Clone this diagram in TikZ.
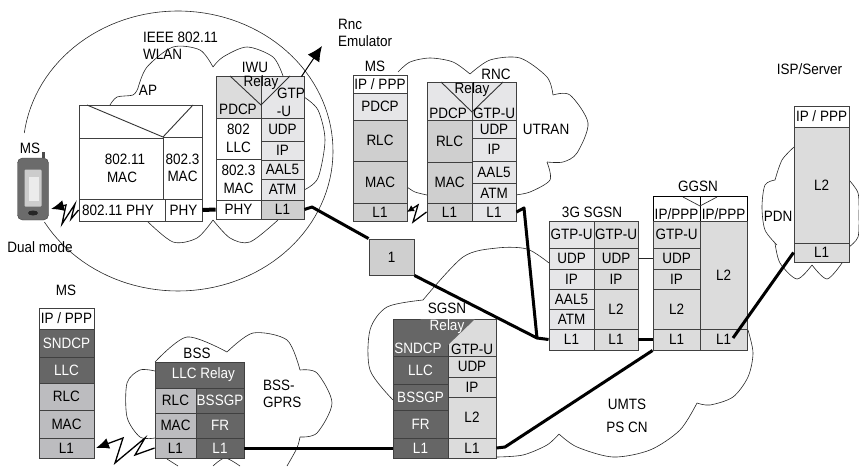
\documentclass[tikz,border=0pt]{standalone}
\usepackage{fontspec}
\setmainfont[FakeStretch=0.9]{Liberation Sans}
\usetikzlibrary{arrows.meta,shapes.geometric}
\definecolor{cellwhite}{HTML}{FFFFFF}
\definecolor{celllight}{HTML}{E6E6E8}
\definecolor{cellpale}{HTML}{DCDCDC}
\definecolor{cellmid}{HTML}{CFCFCF}
\definecolor{cellsteel}{HTML}{BCBCBF}
\definecolor{celldark}{HTML}{666666}
\tikzset{
  box/.style 2 args={draw=black!75,line width=0.9pt,minimum width=#1,minimum height=#2,inner sep=0pt,align=center},
  darkbox/.style 2 args={box={#1}{#2},fill=celldark,text=white},
  txt/.style={inner sep=0pt,align=center},
  cloudline/.style={line width=0.6pt,black!85},
  wire/.style={line width=3pt,black,line join=round},
  radio/.style={line width=1.3pt,black,line join=miter,-{Latex[length=13pt,width=11pt]}},
}
\begin{document}
\begin{tikzpicture}[x=1pt,y=-1pt,every node/.style={font=\fontsize{15}{17.5}\selectfont}]
\useasboundingbox (0,0) rectangle (859,466);
% big circle of the dual mode terminal
\draw[cloudline] plot[domain=210.5:532.6,samples=120] ({178+155*cos(\x)},{151-140*sin(\x)});
% WLAN cloud
\draw[cloudline] plot[smooth] coordinates {(110,105) (117,97) (133,95) (138,88)};
\draw[cloudline] plot[smooth] coordinates {(138,88) (147,67) (173,47) (200,50) (213,67)};
\draw[cloudline] plot[smooth] coordinates {(213,67) (223,57) (247,47) (273,57) (283,76)};
\draw[cloudline] plot[smooth] coordinates {(304,97) (318,110) (325,140) (318,178) (304,190)};
\draw[cloudline] plot[smooth] coordinates {(147,221) (173,242) (197,238) (213,220)};
\draw[cloudline] plot[smooth] coordinates {(213,220) (230,238) (250,242) (278,220)};
% UTRAN cloud
\draw[cloudline] plot[smooth] coordinates {(398,72) (410,62) (430,58) (453,62) (470,74)};
\draw[cloudline] plot[smooth] coordinates {(470,74) (490,60) (520,58) (547,77) (553,95)};
\draw[cloudline] plot[smooth] coordinates {(553,95) (570,95) (588,123) (577,153) (563,162) (547,162)};
\draw[cloudline] plot[smooth] coordinates {(547,162) (550,180) (530,192) (515,195)};
\draw[cloudline] plot[smooth] coordinates {(407,187) (415,192) (427,195)};
% UMTS cloud
\draw[cloudline] plot[smooth] coordinates {(549,263) (527,249) (497,248) (463,257) (423,300)};
\draw[cloudline] plot[smooth] coordinates {(423,300) (387,307) (370,330) (370,370) (393,400)};
\draw[cloudline] plot[smooth] coordinates {(497,457) (523,455) (547,445) (559,434)};
\draw[cloudline] plot[smooth] coordinates {(559,434) (577,447) (613,457) (650,450) (680,430) (697,403)};
\draw[cloudline] plot[smooth] coordinates {(697,403) (710,405) (733,397) (748,377) (753,353) (748,330)};
% BSS cloud
\draw[cloudline] plot[smooth] coordinates {(155,371) (140,370) (127,383) (127,417) (140,437) (155,438)};
\draw[cloudline] plot[smooth] coordinates {(155,362) (187,337) (227,352)};
\draw[cloudline] plot[smooth] coordinates {(227,352) (253,333) (287,340) (300,370)};
\draw[cloudline] plot[smooth] coordinates {(300,370) (317,373) (332,403) (317,433) (300,437)};
\draw[cloudline] plot[smooth] coordinates {(300,437) (297,448) (287,466)};
\draw[cloudline] plot[smooth] coordinates {(167,459) (178,466)};
\draw[cloudline] plot[smooth] coordinates {(213,466) (225,458) (240,466)};
% PDN cloud
\draw[cloudline] plot[smooth] coordinates {(794,147) (782,160) (775,180)};
\draw[cloudline] plot[smooth] coordinates {(775,180) (765,185) (762,207) (765,230) (777,245)};
\draw[cloudline] plot[smooth] coordinates {(775,243) (780,263) (797,279) (812,265)};
\draw[cloudline] plot[smooth] coordinates {(812,265) (827,279) (842,263)};
\draw[cloudline] plot[smooth] coordinates {(849,180) (858,193) (859,215) (858,237) (849,247)};
% AP
\node[box={123}{33},fill=cellwhite] (aptop) at (140.5,121.5) {};
\node[box={84}{61},fill=cellwhite] (apmaca) at (121,168.5) {\hspace*{8pt}802.11\\\hspace*{2pt}MAC};
\node[box={39}{62},fill=cellwhite] (apmacb) at (182.5,168) {802.3\\MAC};
\node[box={86}{22},fill=cellwhite] (apphya) at (122,210) {802.11 PHY\hspace*{8pt}};
\node[box={37}{22},fill=cellwhite] (apphyb) at (183.5,210) {PHY};
\draw[line width=0.9pt,black!80] (87,105) -- (163,137) -- (193,105);
\node[txt] (aplabel) at (148,90) {AP};
% IWU
\node[box={45}{42},fill=cellpale] (iwupdcp) at (238.5,97) {};
\node[box={45}{41},fill=cellwhite] (iwullc) at (238.5,138.5) {802\\LLC};
\node[box={45}{41},fill=cellwhite] (iwumac) at (238.5,179.5) {802.3\\MAC};
\node[box={45}{19},fill=cellwhite] (iwuphy) at (238.5,209.5) {PHY};
\node[box={43}{42},fill=celllight] (iwugtp) at (282.5,97) {};
\node[box={43}{23},fill=celllight] (iwuudp) at (282.5,129.5) {UDP};
\node[box={43}{19},fill=celllight] (iwuip) at (282.5,150.5) {IP};
\node[box={43}{19},fill=celllight] (iwuaal) at (282.5,169.5) {AAL5};
\node[box={43}{21},fill=celllight] (iwuatm) at (282.5,189.5) {ATM};
\node[box={43}{19},fill=cellmid] (iwulone) at (282.5,209.5) {L1};
\draw[line width=0.9pt,black!80] (230,76) -- (261,105) -- (290,76);
\node[txt] (iwurelay) at (261,83) {Relay};
\node[txt] (iwupdcptxt) at (238,109) {PDCP};
\node[txt] (iwugtptxt) at (291,93) {GTP};
\node[txt] (iwugtpb) at (284,111) {-U};
\node[txt] (iwulabel) at (255,67) {IWU};
% MS of the UTRAN
\node[box={54}{18},fill=cellwhite] (utmsip) at (380,84) {IP / PPP};
\node[box={54}{27},fill=celllight] (utmspdcp) at (380,106.5) {PDCP};
\node[box={54}{41},fill=cellmid] (utmsrlc) at (380,140.5) {RLC};
\node[box={54}{42},fill=cellmid] (utmsmac) at (380,182) {MAC};
\node[box={54}{18},fill=cellmid] (utmslone) at (380,212) {L1};
\node[txt] (utmslabel) at (375,66) {MS};
% RNC
\node[box={45}{38},fill=celllight] (rncpdcp) at (449.5,101) {};
\node[box={45}{42},fill=cellmid] (rncrlc) at (449.5,141) {RLC};
\node[box={45}{41},fill=cellmid] (rncmac) at (449.5,182.5) {MAC};
\node[box={45}{18},fill=cellmid] (rnclonea) at (449.5,212) {L1};
\node[box={44}{38},fill=celllight] (rncgtp) at (494,101) {};
\node[box={44}{18},fill=celllight] (rncudp) at (494,129) {UDP};
\node[box={44}{23},fill=celllight] (rncip) at (494,149.5) {IP};
\node[box={44}{22},fill=celllight] (rncaal) at (494,172) {AAL5};
\node[box={44}{20},fill=celllight] (rncatm) at (494,193) {ATM};
\node[box={44}{18},fill=celllight] (rnconeb) at (494,212) {L1};
\draw[line width=0.9pt,black!80] (441,82) -- (472,112) -- (503,82);
\node[txt] (rncrelay) at (472,90) {Relay};
\node[txt] (rncpdcptxt) at (448,113) {PDCP};
\node[txt] (rncgtptxt) at (494,113) {GTP-U};
\node[txt] (rnclabel) at (496,74) {RNC};
% the numbered box
\node[box={45}{36},fill=cellmid] (numbox) at (391.5,257) {1};
% 3G SGSN
\node[box={45}{27},fill=celllight] (tggtpa) at (571.5,234.5) {GTP-U};
\node[box={45}{21},fill=celllight] (tgudpa) at (571.5,258.5) {UDP};
\node[box={45}{20},fill=celllight] (tgipa) at (571.5,279) {IP};
\node[box={45}{20},fill=celllight] (tgaal) at (571.5,299) {AAL5};
\node[box={45}{20},fill=celllight] (tgatm) at (571.5,319) {ATM};
\node[box={45}{21},fill=celllight] (tglonea) at (571.5,339.5) {L1};
\node[box={44}{27},fill=cellpale] (tggtpb) at (616,234.5) {GTP-U};
\node[box={44}{21},fill=cellpale] (tgudpb) at (616,258.5) {UDP};
\node[box={44}{20},fill=cellpale] (tgipb) at (616,279) {IP};
\node[box={44}{40},fill=cellpale] (tgltwo) at (616,309) {L2};
\node[box={44}{21},fill=cellpale] (tgloneb) at (616,339.5) {L1};
\node[txt] (tglabel) at (592,212) {3G SGSN};
% GGSN
\node[box={47}{25},fill=cellwhite,draw=black] (ggipa) at (676.5,208.5) {};
\node[box={47}{25},fill=cellwhite,draw=black] (ggipb) at (723.5,208.5) {};
\node[box={47}{27},fill=cellpale] (gggtp) at (676.5,234.5) {GTP-U};
\node[box={47}{21},fill=cellpale] (ggudp) at (676.5,258.5) {UDP};
\node[box={47}{20},fill=cellpale] (ggip) at (676.5,279) {IP};
\node[box={47}{40},fill=cellpale] (ggltwoa) at (676.5,309) {L2};
\node[box={47}{21},fill=cellpale] (gglonea) at (676.5,339.5) {L1};
\node[box={47}{108},fill=cellpale] (ggltwob) at (723.5,275) {L2};
\node[box={47}{21},fill=cellpale] (ggloneb) at (723.5,339.5) {L1};
\draw[line width=0.7pt,black!80] (683,197) -- (700,206) -- (717,197);
\node[txt] (ggiptxta) at (676.5,214) {IP/PPP};
\node[txt] (ggiptxtb) at (723.5,214) {IP/PPP};
\node[txt] (gglabel) at (698,186) {GGSN};
\coordinate (ggend) at (733,338);
% ISP/Server
\node[box={55}{21},fill=cellwhite] (srvip) at (821.5,116.5) {IP / PPP};
\node[box={55}{116},fill=cellpale] (srvltwo) at (821.5,185) {L2};
\node[box={55}{19},fill=cellpale] (srvlone) at (821.5,252.5) {L1};
\node[txt] (srvlabel) at (809.5,69) {ISP/Server};
% SGSN
\node[darkbox={55}{37}] (sgsndcp) at (420.5,337.5) {};
\node[darkbox={55}{28}] (sgllc) at (420.5,370) {LLC};
\node[darkbox={55}{26}] (sgbssgp) at (420.5,397) {BSSGP};
\node[darkbox={55}{28}] (sgfr) at (420.5,424) {FR};
\node[darkbox={55}{20}] (sglonea) at (420.5,448) {L1};
\node[box={48}{37},fill=cellpale] (sggtp) at (472,337.5) {};
\node[box={48}{21},fill=cellpale] (sgudp) at (472,366.5) {UDP};
\node[box={48}{20},fill=cellpale] (sgip) at (472,387) {IP};
\node[box={48}{41},fill=cellpale] (sgltwo) at (472,417.5) {L2};
\node[box={48}{20},fill=cellpale] (sgloneb) at (472,448) {L1};
\fill[celldark] (420,319) -- (475,319) -- (448,345) -- cycle;
\node[txt,text=white] (sgrelay) at (447,327) {Relay};
\node[txt,text=white] (sgsndcptxt) at (418,348) {SNDCP};
\node[txt] (sggtptxt) at (472,349) {GTP-U};
\node[txt] (sglabel) at (447,308) {SGSN};
% BSS
\node[darkbox={89}{26}] (bssllc) at (199.5,375) {\hspace*{8pt}LLC Relay};
\node[box={41}{25},fill=cellsteel] (bssrlc) at (175.5,400.5) {RLC};
\node[box={41}{25},fill=cellsteel] (bssmac) at (175.5,425.5) {MAC};
\node[box={41}{20},fill=cellsteel] (bsslonea) at (175.5,448) {L1};
\node[darkbox={48}{25}] (bssgp) at (220,400.5) {BSSGP};
\node[darkbox={48}{25}] (bssfr) at (220,425.5) {FR};
\node[darkbox={48}{20}] (bssloneb) at (220,448) {L1};
\node[txt] (bsslabel) at (197,353) {BSS};
% MS of the GPRS
\node[box={55}{21},fill=cellwhite] (gpmsip) at (66.5,318.5) {IP / PPP};
\node[darkbox={55}{28}] (gpmssndcp) at (66.5,343) {SNDCP};
\node[darkbox={55}{26}] (gpmsllc) at (66.5,370) {LLC};
\node[box={55}{27},fill=cellsteel] (gpmsrlc) at (66.5,396.5) {RLC};
\node[box={55}{28},fill=cellsteel] (gpmsmac) at (66.5,424) {MAC};
\node[box={55}{20},fill=cellsteel] (gpmslone) at (66.5,448) {L1};
\node[txt] (gpmslabel) at (66,290) {MS};
% dual mode terminal
\node[draw=black!75,fill=black!58,rounded corners=5pt,minimum width=31pt,minimum height=62pt,inner sep=0pt] (phone) at (33,189) {};
\node[fill=black!70,minimum width=3pt,minimum height=6pt,inner sep=0pt] (phoneant) at (43,155) {};
\node[fill=black!20,rounded corners=1pt,minimum width=17pt,minimum height=37pt,inner sep=0pt] (phonescr) at (33,188) {};
\node[fill=black!8,minimum width=10pt,minimum height=24pt,inner sep=0pt] (phonetxt) at (34,189) {};
\node[fill=black!85,ellipse,minimum width=10pt,minimum height=5pt,inner sep=0pt] (phonekey) at (33,213) {};
\node[txt] (phonelabel) at (30,148) {MS};
\node[txt] (phonemode) at (40,247) {Dual mode};
% other labels
\node[txt,align=left,anchor=west] (wlanlabel) at (143,46) {IEEE 802.11\\WLAN};
\node[txt,align=left,anchor=west] (emulabel) at (338,33) {Rnc\\Emulator};
\node[txt] (utranlabel) at (546,129) {UTRAN};
\node[txt] (pdnlabel) at (778,216) {PDN};
\node[txt,align=left,anchor=west] (gprslabel) at (263,394) {BSS-\\GPRS};
\node[txt] (umtslabel) at (627,416) {UMTS\\[5pt]PS CN};
% connectors
\draw[line width=4pt] (apphyb.east) -- (iwuphy.west);
\draw[wire] (iwulone.east) -- (312,207) -- (numbox.north west);
\draw[wire] (numbox.south east) -- (537,338) -- (tglonea.west);
\draw[wire] (rnconeb.east) -- (524,208) -- (537,338);
\draw[wire] (tgloneb.east) -- (gglonea.west);
\draw[wire] (sgloneb.east) -- (505,447) -- (gglonea.south west);
\draw[wire] (bssloneb.east) -- (sglonea.west);
\draw[wire] (ggend) -- (srvlone.west);
\draw[cloudline] (tgudpb.east) -- (ggudp.west);
\draw[-{Latex[length=15pt,width=14pt]},line width=1pt] (iwugtp.north east) ++(-3,1) -- (322,46);
% radio links
\draw[radio] (apphya.west) -- (71,219) -- (75,204) -- (62,224) -- (66,205) -- (51,209);
\draw[radio,-{Latex[length=7pt,width=7pt]}] (rnclonea.west) -- (413,222) -- (418,205) -- (407,212);
\draw[radio] (bsslonea.west) -- (135,455) -- (145,438) -- (115,463) -- (123,438) -- (96,448);
\end{tikzpicture}
\end{document}
